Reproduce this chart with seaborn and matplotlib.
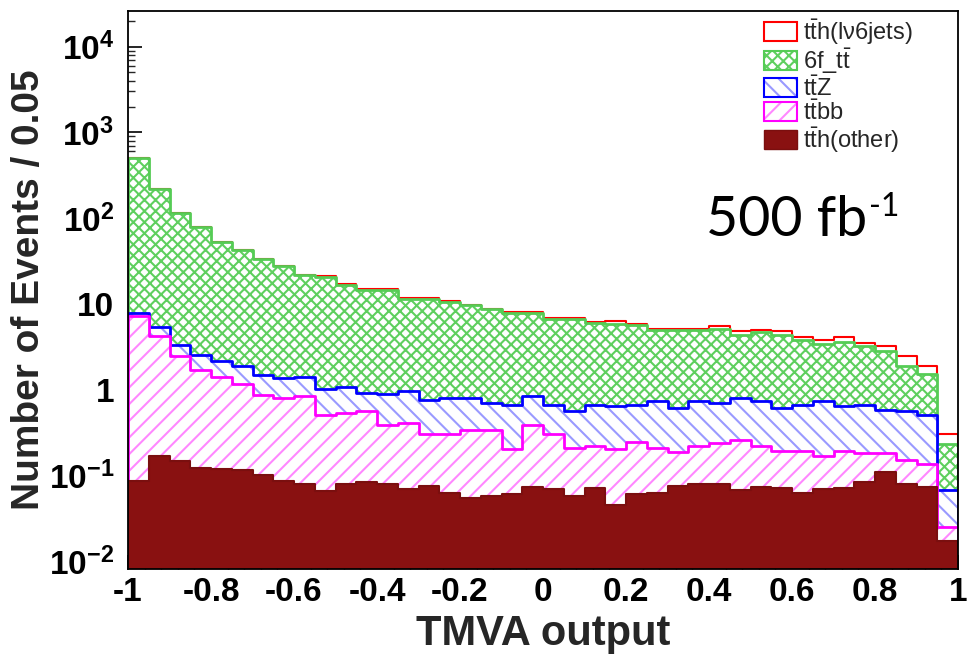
import numpy as np
import pandas as pd
import matplotlib
matplotlib.use("Agg")
import matplotlib.pyplot as plt
import seaborn as sns
from matplotlib.patches import Patch

# ---------------- data (stacked levels, 40 bins of 0.05) -------------
bin_lo, bin_hi, n_bins = -1.0, 1.0, 40

# top of stack: tth(lv6jets) added on top of everything
stack_tth_lv6jets = [496.1, 221.1, 115.1, 78.1, 53.1, 42.2, 33.7, 27.7, 21.8, 20.9,
                     17.0, 14.9, 14.9, 11.7, 11.7, 10.7, 9.8, 8.8, 8.1, 8.1,
                     6.8, 6.8, 6.2, 6.27, 5.85, 5.15, 5.15, 5.15, 5.5, 4.8,
                     5.0, 4.8, 4.08, 3.76, 4.08, 3.5, 3.2, 2.45, 1.9, 0.30]
# level after 6f_tt
stack_6f_tt = [496, 221, 115, 78, 53, 42, 33.5, 27.5, 21.6, 20.7,
               16.8, 14.7, 14.7, 11.5, 11.5, 10.5, 9.6, 8.6, 7.85, 7.85,
               6.6, 6.6, 6.0, 5.9, 5.6, 5.0, 5.0, 5.0, 5.15, 4.38,
               4.67, 4.38, 3.83, 3.44, 3.56, 3.2, 2.8, 1.87, 1.52, 0.234]
# level after ttZ
stack_ttZ = [7.85, 5.4, 3.35, 2.54, 2.18, 1.87, 1.48, 1.36, 1.41, 1.03,
             1.06, 0.91, 0.88, 0.955, 0.76, 0.80, 0.80, 0.70, 0.67, 0.84,
             0.67, 0.57, 0.67, 0.64, 0.67, 0.73, 0.605, 0.73, 0.69, 0.80,
             0.73, 0.61, 0.67, 0.73, 0.64, 0.67, 0.585, 0.56, 0.50, 0.068]
# level after ttbb
stack_ttbb = [7.2, 4.2, 2.49, 1.71, 1.41, 1.16, 0.875, 0.80, 0.84, 0.50,
              0.54, 0.57, 0.39, 0.41, 0.30, 0.30, 0.34, 0.34, 0.203, 0.39,
              0.30, 0.21, 0.222, 0.203, 0.243, 0.21, 0.186, 0.218, 0.239, 0.256,
              0.218, 0.19, 0.19, 0.167, 0.19, 0.182, 0.182, 0.15, 0.137, 0.025]
# bottom: tth(other)
stack_tth_other = [0.087, 0.17, 0.146, 0.122, 0.12, 0.115, 0.10, 0.087, 0.079, 0.066,
                   0.079, 0.083, 0.079, 0.069, 0.076, 0.062, 0.054, 0.057, 0.060, 0.074,
                   0.069, 0.057, 0.071, 0.045, 0.060, 0.062, 0.076, 0.079, 0.079, 0.067,
                   0.074, 0.071, 0.063, 0.069, 0.071, 0.084, 0.111, 0.079, 0.073, 0.017]

legend_labels = [r'$\mathrm{t\bar{t}h(l\nu6jets)}$', r'6f_t$\mathrm{\bar{t}}$',
                 r'$\mathrm{t\bar{t}Z}$', r'$\mathrm{t\bar{t}bb}$', r'$\mathrm{t\bar{t}h(other)}$']
x_ticks = [-1, -0.8, -0.6, -0.4, -0.2, 0, 0.2, 0.4, 0.6, 0.8, 1]
x_ticklabels = ['-1', '-0.8', '-0.6', '-0.4', '-0.2', '0', '0.2', '0.4', '0.6', '0.8', '1']
y_ticks = [1e-2, 1e-1, 1, 10, 1e2, 1e3, 1e4]
y_ticklabels = [r'$\mathbf{10^{-2}}$', r'$\mathbf{10^{-1}}$', '1', '10',
                r'$\mathbf{10^{2}}$', r'$\mathbf{10^{3}}$', r'$\mathbf{10^{4}}$']

# ---------------- style ----------------
sns.set_theme(style="white")
plt.rcParams['font.family'] = ['Liberation Sans', 'DejaVu Sans']
plt.rcParams['mathtext.fontset'] = 'custom'
plt.rcParams['mathtext.rm'] = 'Liberation Sans'
plt.rcParams['mathtext.bf'] = 'Liberation Sans:bold'
plt.rcParams['mathtext.it'] = 'Liberation Sans:italic'
plt.rcParams['hatch.linewidth'] = 1.5

edges = np.linspace(bin_lo, bin_hi, n_bins + 1)
centers = 0.5 * (edges[:-1] + edges[1:])
bin_list = [float(e) for e in edges]

W, H = 967, 657
fig = plt.figure(figsize=(W / 100, H / 100), dpi=100)
L, R, T, B = 128, 958, 11, 569
ax = fig.add_axes([L / W, 1 - B / H, (R - L) / W, (B - T) / H])
ax.set_yscale('log')

# layers drawn from top of stack downwards: (values, outline, hatch, hatch colour, solid fill)
layers = [
    (stack_tth_lv6jets, '#ff0000', None, None, 'white'),
    (stack_6f_tt, '#55cc55', 'xxx', '#5fcf5f', None),
    (stack_ttZ, '#0000ff', '\\\\', '#9a9aff', None),
    (stack_ttbb, '#ff00ff', '//', '#ff88ff', None),
    (stack_tth_other, '#7a0f0f', None, None, '#891111'),
]

z = 2
for vals, outline, hatch, hcol, solid in layers:
    df = pd.DataFrame({'x': centers, 'w': vals})
    if solid is not None:
        sns.histplot(data=df, x='x', weights='w', bins=bin_list, element='step', fill=True,
                     color=outline, facecolor=solid, edgecolor=outline, linewidth=1.5,
                     alpha=1, ax=ax, zorder=z)
    else:
        sns.histplot(data=df, x='x', weights='w', bins=bin_list, element='step', fill=True,
                     color=hcol, facecolor='white', edgecolor=hcol, hatch=hatch,
                     linewidth=0, alpha=1, ax=ax, zorder=z)
        sns.histplot(data=df, x='x', weights='w', bins=bin_list, element='step', fill=True,
                     color=outline, facecolor='none', edgecolor=outline, linewidth=2,
                     alpha=1, ax=ax, zorder=z + 0.5)
    z += 1

ax.set_xlim(bin_lo, bin_hi)
ax.set_ylim(0.0081, 2.6e4)

ax.set_xticks(x_ticks)
ax.set_xticklabels(x_ticklabels, fontsize=24, fontweight='bold')
ax.set_yticks(y_ticks)
ax.set_yticklabels(y_ticklabels, fontsize=24, fontweight='bold')
ax.yaxis.set_minor_locator(matplotlib.ticker.LogLocator(base=10, subs=np.arange(2, 10)))
ax.yaxis.set_minor_formatter(matplotlib.ticker.NullFormatter())
ax.xaxis.set_minor_locator(matplotlib.ticker.MultipleLocator(0.04))
ax.tick_params(axis='both', which='major', direction='in', length=10, width=1.2,
               colors='black', pad=8, left=True, bottom=True)
ax.tick_params(axis='both', which='minor', direction='in', length=5, width=1.0,
               left=True, bottom=True)
ax.tick_params(axis='x', which='major', pad=6)
ax.tick_params(axis='y', which='major', pad=10)

for s in ax.spines.values():
    s.set_color('black')
    s.set_linewidth(1.3)
    s.set_zorder(20)

ax.set_xlabel('TMVA output', fontsize=30, fontweight='bold', labelpad=4)
ax.set_ylabel('Number of Events / 0.05', fontsize=28, fontweight='bold', labelpad=1)

# legend
handles = [
    Patch(facecolor='white', edgecolor='#ff0000', linewidth=1.5),
    (Patch(facecolor='white', edgecolor='#5fcf5f', hatch='xxx', linewidth=0),
     Patch(facecolor='none', edgecolor='#55cc55', linewidth=1.5)),
    (Patch(facecolor='white', edgecolor='#9a9aff', hatch='\\\\', linewidth=0),
     Patch(facecolor='none', edgecolor='#0000ff', linewidth=1.5)),
    (Patch(facecolor='white', edgecolor='#ff88ff', hatch='//', linewidth=0),
     Patch(facecolor='none', edgecolor='#ff00ff', linewidth=1.5)),
    Patch(facecolor='#891111', edgecolor='#7a0f0f', linewidth=1.0),
]
leg = fig.legend(handles, legend_labels, loc='upper left',
                 bbox_to_anchor=(764 / W, 1 - 17 / H), frameon=False,
                 fontsize=17, handlelength=1.4, handleheight=0.85,
                 handletextpad=0.25, labelspacing=0.0, borderpad=0, borderaxespad=0)
leg.set_zorder(30)

# luminosity annotation
t = fig.text(706 / W, 1 - 236 / H, '500 fb', fontsize=40, family='Lato',
             color='black', va='baseline', ha='left')
fig.canvas.draw()
bb = t.get_window_extent()
fig.text((bb.x1 + 2) / W, 1 - 216 / H, '-1', fontsize=23, family='Lato',
         color='black', va='baseline', ha='left')

fig.savefig('out.png', dpi=100)
